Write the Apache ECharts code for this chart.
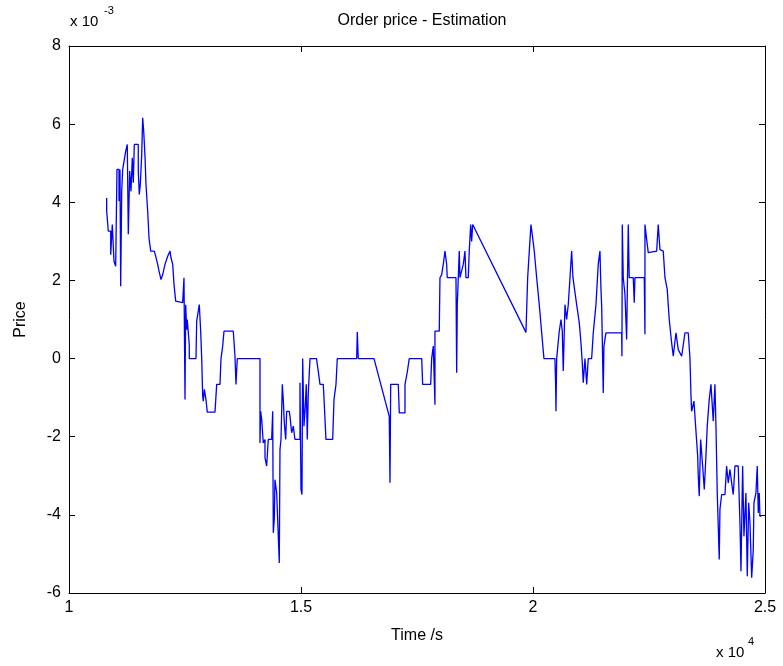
<!DOCTYPE html>
<html>
<head>
<meta charset="utf-8">
<title>Order price - Estimation</title>
<script src="https://cdn.jsdelivr.net/npm/echarts@6/dist/echarts.min.js"></script>
<style>
  html, body { margin: 0; padding: 0; background: #fff; }
  #chart { width: 783px; height: 666px; }
</style>
</head>
<body>
<div id="chart"></div>
<script>
// time in seconds, price in units of 1e-3 (axis shows "x 10^-3")
const times = [
  10812, 10812, 10847, 10847, 10899, 10899, 10933, 10933, 10970, 10970,
  11006, 11006, 11034, 11034, 11078, 11078, 11099, 11099, 11114, 11114,
  11136, 11136, 11157, 11157, 11192, 11222, 11256, 11278, 11278, 11308,
  11308, 11336, 11336, 11364, 11364, 11386, 11386, 11407, 11407, 11493,
  11493, 11515, 11515, 11537, 11537, 11567, 11567, 11588, 11588, 11610,
  11610, 11638, 11638, 11659, 11659, 11696, 11696, 11724, 11724, 11761,
  11761, 11838, 11868, 11911, 11940, 11983, 12019, 12069, 12127, 12177,
  12198, 12235, 12235, 12263, 12263, 12299, 12299, 12321, 12450, 12478,
  12478, 12500, 12500, 12515, 12515, 12536, 12549, 12592, 12592, 12737,
  12752, 12808, 12838, 12860, 12881, 12894, 12916, 12952, 12980, 13146,
  13183, 13254, 13276, 13312, 13340, 13541, 13577, 13599, 13627, 14116,
  14116, 14131, 14153, 14174, 14187, 14224, 14224, 14260, 14295, 14368,
  14390, 14403, 14424, 14439, 14476, 14510, 14532, 14547, 14569, 14597,
  14618, 14640, 14670, 14691, 14747, 14763, 14799, 14834, 14870, 14978,
  14978, 15000, 15021, 15036, 15064, 15092, 15114, 15135, 15157, 15194,
  15334, 15372, 15409, 15480, 15495, 15538, 15683, 15711, 15754, 15782,
  16200, 16213, 16234, 16573, 16902, 16918, 16933, 17097, 17118, 17241,
  17241, 17290, 17333, 17601, 17622, 17795, 17816, 17851, 17887, 17887,
  17980, 17995, 18032, 18066, 18103, 18139, 18152, 18340, 18355, 18368,
  18411, 18426, 18463, 18497, 18534, 18555, 18605, 18626, 18657, 18678,
  18700, 18728, 19848, 19885, 19920, 19956, 19993, 20027, 20079, 20135,
  20187, 20236, 20473, 20488, 20495, 20510, 20566, 20603, 20631, 20652,
  20689, 20725, 20760, 20797, 20833, 20861, 20904, 20941, 20997, 21034,
  21062, 21083, 21120, 21157, 21191, 21264, 21299, 21357, 21406, 21443,
  21465, 21480, 21514, 21529, 21572, 21911, 21917, 21924, 21945, 21982,
  22018, 22053, 22074, 22161, 22182, 22197, 22398, 22413, 22413, 22449,
  22484, 22665, 22699, 22736, 22807, 22844, 22893, 22936, 22988, 23023,
  23081, 23131, 23204, 23275, 23346, 23383, 23404, 23419, 23469, 23512,
  23549, 23562, 23583, 23613, 23656, 23691, 23727, 23755, 23798, 23835,
  23872, 23885, 23921, 23943, 23971, 24014, 24029, 24066, 24137, 24173,
  24208, 24245, 24281, 24316, 24352, 24423, 24460, 24482, 24518, 24546,
  24589, 24618, 24648, 24676, 24713, 24747, 24762, 24805, 24833, 24855,
  24876, 24891, 24923
];
const prices = [
  4.11, 3.77, 3.77, 3.26, 3.26, 2.66, 2.66, 3.43, 3.43, 2.49,
  2.49, 2.36, 2.36, 4.84, 4.84, 4.03, 4.03, 4.84, 4.84, 1.85,
  1.85, 4.28, 4.28, 4.84, 4.84, 5.31, 5.48, 5.48, 3.18, 3.18,
  4.80, 4.80, 4.28, 4.28, 5.14, 5.14, 4.50, 4.50, 5.48, 5.48,
  4.80, 4.80, 4.20, 4.20, 4.46, 4.46, 5.22, 5.22, 6.16, 6.16,
  5.82, 5.82, 5.18, 5.18, 4.46, 4.46, 3.77, 3.77, 3.09, 3.09,
  2.75, 2.75, 2.62, 2.41, 2.24, 2.02, 2.15, 2.41, 2.62, 2.75,
  2.58, 2.58, 2.41, 2.41, 1.90, 1.90, 1.47, 1.43, 1.43, 1.43,
  2.07, 2.07, -1.05, -1.05, 1.38, 0.74, 1.00, 0.36, 0, 0,
  0.96, 1.38, 0.70, 0, -0.96, -1.09, -0.79, -1.05, -1.37, -1.37,
  -0.66, -0.66, 0, 0.32, 0.70, 0.70, 0.06, -0.66, 0, 0,
  -2.16, -1.35, -1.56, -1.60, -2.16, -2.07, -2.54, -2.75, -2.07, -2.07,
  -1.35, -4.46, -4.12, -3.10, -3.44, -3.39, -5.23, -2.33, -2.07, -0.66,
  -1.05, -1.64, -2.07, -1.35, -1.35, -1.48, -1.90, -1.73, -2.07, -2.07,
  -0.62, -3.35, -3.48, 0, -1.73, -1.22, -0.66, -2.07, -0.88, 0,
  0, -0.32, -0.66, -0.66, -1.00, -2.07, -2.07, -1.05, -0.66, 0,
  0, 0.68, 0, 0, -1.48, -3.18, -0.66, -0.66, -1.39, -1.39,
  -0.66, -0.35, 0, 0, -0.66, -0.66, 0, 0.32, -1.18, 0.70,
  0.70, 2.07, 2.15, 2.41, 2.75, 2.41, 2.07, 2.07, -0.36, 1.38,
  2.75, 2.07, 2.07, 2.41, 2.75, 2.07, 2.07, 2.75, 3.43, 3.00,
  3.43, 3.39, 0.67, 2.07, 2.75, 3.43, 3.09, 2.75, 2.07, 1.38,
  0.66, 0, 0, -0.71, -1.35, 0, 0.70, 1.00, 0.70, -0.32,
  1.38, 1.00, 1.38, 2.07, 2.75, 2.07, 2.07, 1.38, 0.92, 0.40,
  -0.11, -0.62, 0, -0.66, 0, 0, 0.66, 1.38, 2.41, 2.75,
  1.77, 1.34, -0.88, 0.32, 0.66, 0.66, 0.06, 3.43, 2.07, 1.64,
  0.49, 3.43, 2.07, 2.07, 1.43, 2.07, 2.07, 0.62, 3.43, 3.05,
  2.71, 2.75, 3.43, 2.79, 2.75, 2.07, 1.77, 1.00, 0.40, 0.06,
  0.66, 0.23, 0.06, 0.66, 0.66, 0, -0.92, -1.35, -1.09, -1.86,
  -2.50, -3.01, -3.52, -2.07, -2.75, -3.35, -2.50, -1.73, -1.05, -0.66,
  -0.66, -1.60, -0.66, -1.73, -3.44, -5.14, -3.86, -3.48, -3.48, -2.75,
  -3.18, -2.84, -3.18, -3.48, -2.75, -2.75, -4.20, -5.44, -2.75, -4.55,
  -3.44, -5.57, -3.69, -4.20, -5.61, -4.89, -3.69, -3.44, -2.75, -3.95,
  -3.44, -4.03, -4.03
];
const xMin = 10000, xMax = 25000, xStep = 5000;
const yMin = -6, yMax = 8, yStep = 2;

const data = times.map((t, i) => [t, prices[i]]);

const chart = echarts.init(document.getElementById('chart'));
const font = 'Liberation Sans, Arial, Helvetica, sans-serif';
const line = { show: true, onZero: false, lineStyle: { color: '#000', width: 1 } };
const tick = { show: true, inside: true, length: 6, lineStyle: { color: '#000', width: 1 } };

const option = {
  animation: false,
  backgroundColor: '#fff',
  title: {
    text: 'Order price - Estimation',
    left: 417,
    top: 8,
    textAlign: 'center',
    textStyle: { fontFamily: font, fontSize: 16, fontWeight: 'normal', color: '#000' },
  },
  grid: { left: 69, right: 18, top: 46, bottom: 73, containLabel: false },
  xAxis: [
    {
      type: 'value', position: 'bottom', min: xMin, max: xMax, interval: xStep,
      axisLine: line, axisTick: tick, splitLine: { show: false },
      axisLabel: {
        margin: 7, fontFamily: font, fontSize: 16, color: '#000',
        formatter: v => String(v / 10000),
      },
      name: 'Time /s', nameLocation: 'middle', nameGap: 35,
      nameTextStyle: { fontFamily: font, fontSize: 16, color: '#000' },
    },
    {
      type: 'value', position: 'top', min: xMin, max: xMax, interval: xStep,
      axisLine: line, axisTick: tick, splitLine: { show: false },
      axisLabel: { show: false },
    },
  ],
  yAxis: [
    {
      type: 'value', position: 'left', min: yMin, max: yMax, interval: yStep,
      axisLine: line, axisTick: tick, splitLine: { show: false },
      axisLabel: { margin: 8, fontFamily: font, fontSize: 16, color: '#000' },
      name: 'Price', nameLocation: 'middle', nameGap: 40,
      nameTextStyle: { fontFamily: font, fontSize: 16, color: '#000' },
    },
    {
      type: 'value', position: 'right', min: yMin, max: yMax, interval: yStep,
      axisLine: line, axisTick: tick, splitLine: { show: false },
      axisLabel: { show: false },
    },
  ],
  series: [
    {
      type: 'line',
      xAxisIndex: 0,
      yAxisIndex: 0,
      data: data,
      showSymbol: false,
      symbol: 'none',
      lineStyle: { color: '#0000ff', width: 1.3 },
      emphasis: { disabled: true },
    },
  ],
  graphic: [
    { type: 'text', left: 70, top: 14, style: { text: 'x 10', fontFamily: font, fontSize: 15, fill: '#000' } },
    { type: 'text', left: 104, top: 5, style: { text: '-3', fontFamily: font, fontSize: 11, fill: '#000' } },
    { type: 'text', left: 716, top: 645, style: { text: 'x 10', fontFamily: font, fontSize: 15, fill: '#000' } },
    { type: 'text', left: 748, top: 636, style: { text: '4', fontFamily: font, fontSize: 11, fill: '#000' } },
  ],
};

chart.setOption(option);
</script>
</body>
</html>
